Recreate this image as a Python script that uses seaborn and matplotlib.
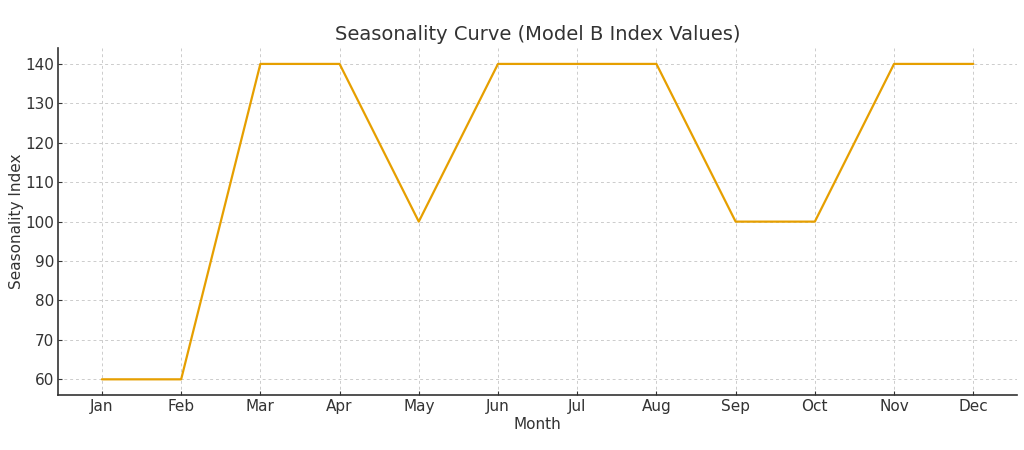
import numpy as np
import pandas as pd
import matplotlib
matplotlib.use("Agg")
import matplotlib.pyplot as plt
import seaborn as sns

months = ["Jan", "Feb", "Mar", "Apr", "May", "Jun",
          "Jul", "Aug", "Sep", "Oct", "Nov", "Dec"]
index_values = [60, 60, 140, 140, 100, 140, 140, 140, 100, 100, 140, 140]
y_ticks = [60, 70, 80, 90, 100, 110, 120, 130, 140]

df = pd.DataFrame({"Month": months, "Seasonality Index": index_values})
df["pos"] = np.arange(len(months))

sns.set_style("ticks")
plt.rcParams["font.family"] = ["DejaVu Sans"]

fig, ax = plt.subplots(figsize=(10.24, 4.5), dpi=100)
sns.lineplot(data=df, x="pos", y="Seasonality Index", color="#E69F00",
             linewidth=1.6, ax=ax)

ax.set_xticks(df["pos"])
ax.set_xticklabels(months)
ax.set_yticks(y_ticks)
ax.set_xlim(-0.55, 11.55)
ax.set_ylim(56, 144)
ax.grid(True, linestyle=(0, (3, 3)), color="#cccccc", linewidth=0.7)
ax.set_axisbelow(True)
sns.despine(ax=ax)
for s in ["left", "bottom"]:
    ax.spines[s].set_color("#333333")
    ax.spines[s].set_linewidth(1.2)
ax.tick_params(colors="#333333", labelsize=11, direction="in", length=3, pad=3)

ax.set_title("Seasonality Curve (Model B Index Values)", fontsize=14, color="#333333")
ax.set_xlabel("Month", fontsize=11, color="#333333", labelpad=2)
ax.set_ylabel("Seasonality Index", fontsize=11, color="#333333", labelpad=1)

fig.subplots_adjust(left=0.057, right=0.993, top=0.893, bottom=0.122)
fig.savefig("out.png", dpi=100)
